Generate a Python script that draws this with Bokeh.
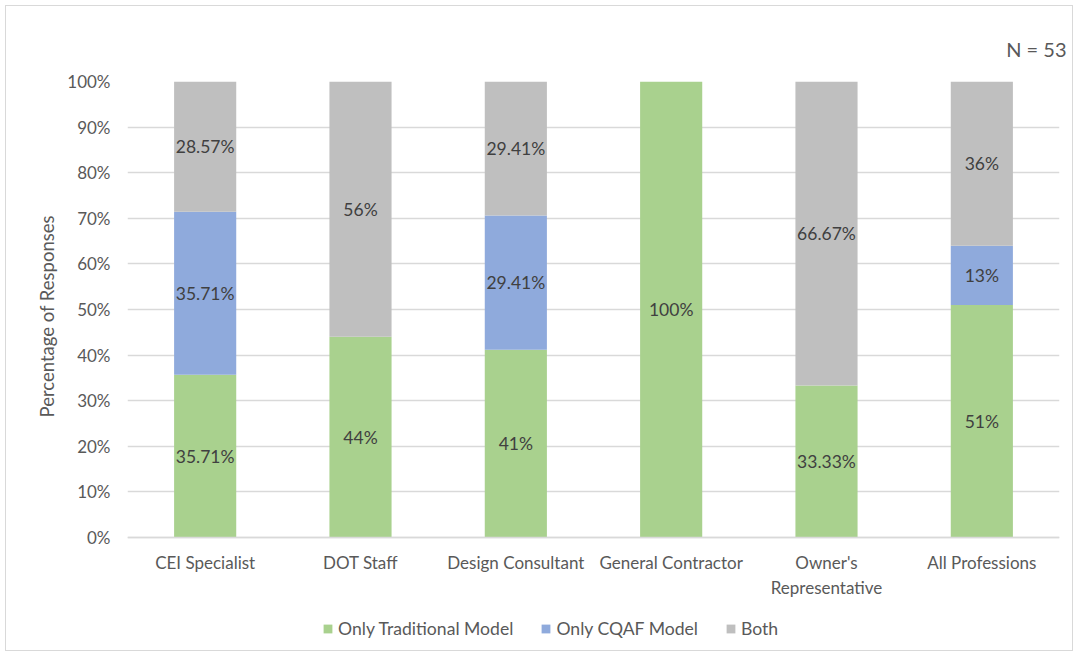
from bokeh.plotting import figure
from bokeh.models import (ColumnDataSource, Range1d, FixedTicker, Legend, LegendItem, Title)
from bokeh.core.properties import value
from bokeh.embed import file_html
from bokeh.resources import INLINE

categories = ["CEI Specialist", "DOT Staff", "Design Consultant", "General Contractor",
              "Owner's\nRepresentative", "All Professions"]
series_names = ["Only Traditional Model", "Only CQAF Model", "Both"]
traditional = [35.71, 44.0, 41.18, 100.0, 33.33, 51.0]
cqaf = [35.71, 0.0, 29.41, 0.0, 0.0, 13.0]
both = [28.57, 56.0, 29.41, 0.0, 66.67, 36.0]
traditional_labels = ["35.71%", "44%", "41%", "100%", "33.33%", "51%"]
cqaf_labels = ["35.71%", "", "29.41%", "", "", "13%"]
both_labels = ["28.57%", "56%", "29.41%", "", "66.67%", "36%"]
y_ticks = [0, 10, 20, 30, 40, 50, 60, 70, 80, 90, 100]
y_title = "Percentage of Responses"
n_text = "N = 53"

colors = ["#A9D18E", "#8FAADC", "#BFBFBF"]
FONT = "Lato"
TXT = "#595959"

src = ColumnDataSource(dict(cat=categories, trad=traditional, cqaf=cqaf, both=both))

# frame spans 569 px; 0..100 occupies the upper 456 px, the rest holds axis labels + legend
Y_START = -100 * (569 - 456) / 456
p = figure(x_range=categories, y_range=Range1d(Y_START, 100), width=1066, height=644,
           output_backend="svg", toolbar_location=None,
           min_border_left=121, min_border_right=13, min_border_top=75, min_border_bottom=0)
p.margin = (6, 6, 6, 6)
p.styles = {"outline": "1.5px solid #D9D9D9"}
p.outline_line_color = None
p.background_fill_color = "white"
p.border_fill_color = "white"

rs = p.vbar_stack(["trad", "cqaf", "both"], x="cat", width=0.4, source=src,
                  color=colors, line_color=None)

# data labels
lx, ly, lt = [], [], []
for i, c in enumerate(categories):
    base = 0.0
    for vals, labs in ((traditional, traditional_labels), (cqaf, cqaf_labels), (both, both_labels)):
        v = vals[i]
        if v > 0 and labs[i]:
            lx.append(c)
            ly.append(base + v / 2)
            lt.append(labs[i])
        base += v
lsrc = ColumnDataSource(dict(x=lx, y=ly, t=lt))
p.text(x="x", y="y", text="t", source=lsrc, text_align="center", text_baseline="middle",
       text_font=value(FONT), text_font_size="17.5px", text_color="#404040")

# axes
p.yaxis.ticker = FixedTicker(ticks=y_ticks)
p.yaxis.bounds = (0, 100)
p.yaxis.major_label_overrides = {t: f"{t}%" for t in y_ticks}
p.yaxis.axis_line_color = None
p.yaxis.major_tick_line_color = None
p.yaxis.major_tick_out = 0
p.yaxis.minor_tick_line_color = None
p.yaxis.major_label_standoff = 17
# leading no-break spaces keep the rotated title centred on the 0-100% span
p.yaxis.axis_label = "\u00a0" * 21 + y_title
p.yaxis.axis_label_standoff = 6
p.yaxis.axis_label_text_font = FONT
p.yaxis.axis_label_text_font_style = "normal"
p.yaxis.axis_label_text_font_size = "18.5px"
p.yaxis.axis_label_text_color = TXT
p.yaxis.major_label_text_font = FONT
p.yaxis.major_label_text_font_size = "17px"
p.yaxis.major_label_text_color = TXT

p.xaxis.fixed_location = 0
p.xaxis.axis_line_color = "#D9D9D9"
p.xaxis.axis_line_width = 1.5
p.xaxis.major_tick_line_color = None
p.xaxis.major_tick_out = 0
p.xaxis.minor_tick_line_color = None
p.xaxis.major_label_standoff = 14
p.xaxis.major_label_text_font = FONT
p.xaxis.major_label_text_font_size = "17px"
p.xaxis.major_label_text_color = TXT

p.xgrid.grid_line_color = None
p.ygrid.grid_line_color = "#D9D9D9"
p.ygrid.grid_line_width = 1.5
p.x_range.range_padding = 0

legend = Legend(items=[LegendItem(label=n, renderers=[r]) for n, r in zip(series_names, rs)],
                orientation="horizontal", location=(195, 11),
                glyph_width=11, glyph_height=11, label_standoff=5, spacing=27,
                padding=0, margin=0, border_line_color=None, background_fill_alpha=0,
                label_text_font=FONT, label_text_font_size="17.6px", label_text_color=TXT)
p.add_layout(legend)

p.add_layout(Title(text=n_text, align="right", offset=-7, standoff=41, text_font=FONT,
                   text_font_size="20px", text_font_style="normal", text_color=TXT), "above")

open("out.html", "w").write(file_html(p, INLINE))
